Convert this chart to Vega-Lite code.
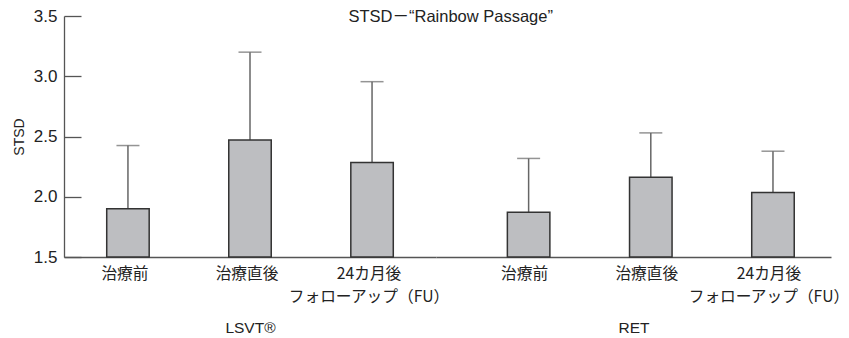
{
  "$schema": "https://vega.github.io/schema/vega-lite/v6.json",
  "padding": {"left": 12, "top": 7, "right": 0, "bottom": 5},
  "background": "white",
  "title": {"text": "STSD－“Rainbow Passage”", "fontSize": 16.5, "fontWeight": "normal", "font": "Liberation Sans, Noto Sans CJK JP", "color": "#222", "offset": -18, "anchor": "middle", "dx": 20},
  "data": {"values": [
    {"group": "LSVT®", "time": "治療前", "value": 1.90, "upper": 2.425},
    {"group": "LSVT®", "time": "治療直後", "value": 2.47, "upper": 3.20},
    {"group": "LSVT®", "time": "24カ月後", "value": 2.285, "upper": 2.955},
    {"group": "RET", "time": "治療前", "value": 1.872, "upper": 2.318},
    {"group": "RET", "time": "治療直後", "value": 2.162, "upper": 2.530},
    {"group": "RET", "time": "24カ月後", "value": 2.036, "upper": 2.378}
  ]},
  "spacing": 0,
  "bounds": "flush",
  "hconcat": [
    {
      "width": 372,
      "height": 241,
      "transform": [{"filter": "datum.group === 'LSVT®'"}],
      "encoding": {
        "x": {
          "field": "time", "type": "nominal",
          "sort": ["治療前", "治療直後", "24カ月後"],
          "scale": {"paddingInner": 0.652, "paddingOuter": 0.35},
          "axis": {
            "title": "LSVT®",
            "labelExpr": "datum.label == '24カ月後' ? ['24カ月後', 'フォローアップ（FU）'] : datum.label",
            "labelAngle": 0, "ticks": false, "labelPadding": 9, "labelLineHeight": 23, "labelOffset": -3,
            "labelFontSize": 15.7, "labelFont": "Noto Sans CJK JP", "labelColor": "#222",
            "titleFont": "Liberation Sans", "titleFontSize": 15.5, "titleFontWeight": "normal", "titleColor": "#222", "titlePadding": 17,
            "domainColor": "#555", "domainWidth": 1.3
          }
        }
      },
      "layer": [
        {
          "mark": {"type": "rule", "color": "#666", "strokeWidth": 1.5},
          "encoding": {
            "y": {"field": "value", "type": "quantitative", "scale": {"domain": [1.5, 3.5], "zero": false, "nice": false},
              "axis": {"title": "STSD", "values": [1.5, 2, 2.5, 3, 3.5], "format": ".1f", "tickSize": -17, "labelPadding": 24, "grid": false,
                "domainColor": "#555", "tickColor": "#555", "domainWidth": 1.3, "tickWidth": 1.3,
                "labelFontSize": 17, "labelFont": "Liberation Sans", "labelColor": "#222",
                "titleFont": "Liberation Sans", "titleFontSize": 14, "titleFontWeight": "normal", "titleColor": "#222", "titlePadding": 7}},
            "y2": {"field": "upper"}
          }
        },
        {
          "mark": {"type": "tick", "color": "#666", "size": 23, "thickness": 1.5},
          "encoding": {"y": {"field": "upper", "type": "quantitative", "title": "STSD"}}
        },
        {
          "mark": {"type": "bar", "fill": "#bdbec1", "stroke": "#333", "strokeWidth": 1.5},
          "encoding": {"y": {"field": "value", "type": "quantitative", "title": "STSD"}, "y2": {"datum": 1.5}}
        }
      ]
    },
    {
      "width": 395,
      "height": 241,
      "transform": [{"filter": "datum.group === 'RET'"}],
      "encoding": {
        "x": {
          "field": "time", "type": "nominal",
          "sort": ["治療前", "治療直後", "24カ月後"],
          "scale": {"paddingInner": 0.652, "paddingOuter": 0.4425, "align": 0.66},
          "axis": {
            "title": "RET",
            "labelExpr": "datum.label == '24カ月後' ? ['24カ月後', 'フォローアップ（FU）'] : datum.label",
            "labelAngle": 0, "ticks": false, "labelPadding": 9, "labelLineHeight": 23, "labelOffset": -4,
            "labelFontSize": 15.7, "labelFont": "Noto Sans CJK JP", "labelColor": "#222",
            "titleFont": "Liberation Sans", "titleFontSize": 15.5, "titleFontWeight": "normal", "titleColor": "#222", "titlePadding": 17,
            "domainColor": "#555", "domainWidth": 1.3
          }
        }
      },
      "layer": [
        {
          "mark": {"type": "rule", "color": "#666", "strokeWidth": 1.5},
          "encoding": {
            "y": {"field": "value", "type": "quantitative", "scale": {"domain": [1.5, 3.5], "zero": false, "nice": false}, "axis": null},
            "y2": {"field": "upper"}
          }
        },
        {
          "mark": {"type": "tick", "color": "#666", "size": 23, "thickness": 1.5},
          "encoding": {"y": {"field": "upper", "type": "quantitative", "axis": null}}
        },
        {
          "mark": {"type": "bar", "fill": "#bdbec1", "stroke": "#333", "strokeWidth": 1.5},
          "encoding": {"y": {"field": "value", "type": "quantitative", "axis": null}, "y2": {"datum": 1.5}}
        }
      ]
    }
  ],
  "config": {"view": {"stroke": null}}
}
